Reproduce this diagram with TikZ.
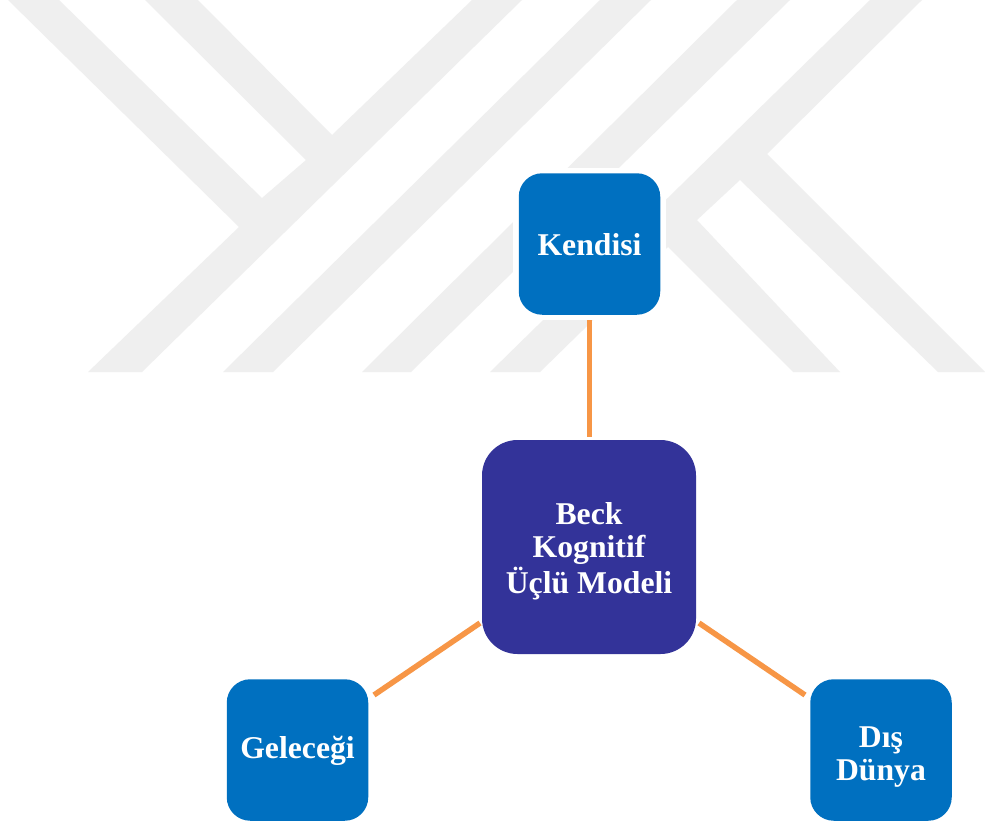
\documentclass[tikz,border=0pt]{standalone}
\usepackage{fontspec}
\setmainfont{Liberation Serif}
\definecolor{wm}{HTML}{EFEFEF}
\definecolor{leaf}{HTML}{0070C0}
\definecolor{hub}{HTML}{333399}
\definecolor{link}{HTML}{F79646}
\newcommand{\lines}[2]{\raisebox{#1}[0pt][0pt]{\begin{tabular}[t]{@{}c@{}}#2\end{tabular}}}
\tikzset{
 band/.style={fill=wm,draw=none},
 box/.style={fill=leaf,rounded corners=23.5pt,text=white,font=\bfseries\fontsize{31.7}{33.5}\selectfont,align=center,minimum width=141.5pt,minimum height=141.5pt,inner sep=0pt,outer sep=0pt},
 hubbox/.style={box,fill=hub,rounded corners=35.5pt,minimum width=214pt,minimum height=214pt},
 halo/.style={fill=white,draw=none},
 conn/.style={draw=link,line width=5.5pt}
}
\begin{document}
\begin{tikzpicture}[x=1pt,y=-1pt]
\useasboundingbox (0,0) rectangle (985,825);
\fill[white] (0,0) rectangle (985,825);
% watermark
\fill[band] (8,0)--(59,0)--(262,198)--(306,160)--(145,0)--(198,0)--(332,135)--(472,0)--(522,0)--(142,372)--(88,372)--(239,227)--cycle;
\fill[band] (223,372)--(273,372)--(651,0)--(600,0)--cycle;
\fill[band] (362,372)--(411,372)--(790,0)--(737,0)--cycle;
\fill[band] (490,372)--(540,372)--(668,247)--(793,372)--(840,372)--(697,220)--(740,180)--(938,372)--(985,372)--(767,154)--(922,0)--(870,0)--cycle;
\fill[halo] (513,168) rectangle (666,320);
% nodes
\node[box] (k) at (589.5,244) {\lines{-11pt}{Kendisi}};
\node[hubbox] (b) at (589,547) {\lines{23pt}{Beck\\Kognitif\\Üçlü Modeli}};
\node[box] (g) at (297.5,750) {\lines{-8pt}{Geleceği}};
\node[box] (d) at (881,750) {\lines{3pt}{Dış\\Dünya}};
\coordinate (k1) at (589.5,320);
\coordinate (b1) at (589.5,437);
\coordinate (b2) at (480,623);
\coordinate (g1) at (374,695);
\coordinate (b3) at (699,623);
\coordinate (d1) at (805,695);
\draw[conn] (k1) -- (b1);
\draw[conn] (b2) -- (g1);
\draw[conn] (b3) -- (d1);
\end{tikzpicture}
\end{document}
